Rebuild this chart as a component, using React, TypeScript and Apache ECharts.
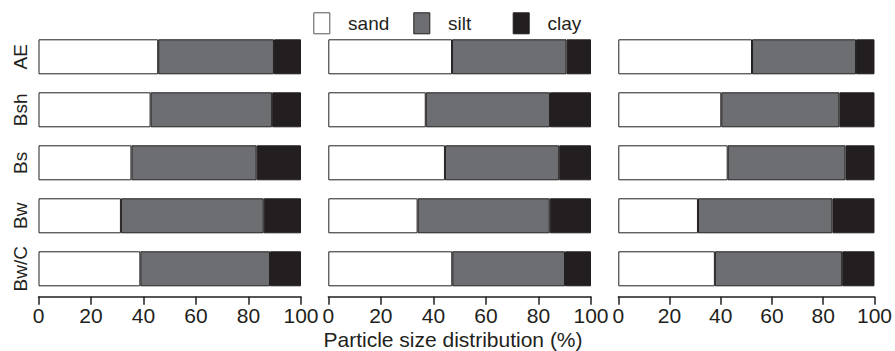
import React, { useEffect, useRef } from "react";
import * as echarts from "echarts";

const categories = ["AE", "Bsh", "Bs", "Bw", "Bw/C"];
const seriesNames = ["sand", "silt", "clay"];

const sand1 = [45.6, 42.7, 35.4, 31.4, 38.8];
const silt1 = [44.1, 46.3, 47.7, 54.4, 49.4];
const clay1 = [10.3, 11.0, 16.9, 14.2, 11.8];

const sand2 = [47.1, 37.1, 44.4, 34.0, 47.2];
const silt2 = [43.6, 47.3, 43.5, 50.3, 42.9];
const clay2 = [9.3, 15.6, 12.1, 15.7, 9.9];

const sand3 = [52.2, 40.2, 42.7, 31.1, 37.7];
const silt3 = [40.6, 46.1, 46.0, 52.5, 49.7];
const clay3 = [7.2, 13.7, 11.3, 16.4, 12.6];

const panels = [
  [sand1, silt1, clay1],
  [sand2, silt2, clay2],
  [sand3, silt3, clay3],
];

const xTicks = [0, 20, 40, 60, 80, 100];
const xTitle = "Particle size distribution (%)";

const FONT = "'Liberation Sans', Arial, Helvetica, sans-serif";
const INK = "#231f20";
const COLORS = ["#ffffff", "#6d6e71", "#231f20"];

export default function App() {
  const ref = useRef<HTMLDivElement>(null);
  useEffect(() => {
    if (!ref.current) return;
    const chart = echarts.init(ref.current, null, { renderer: "svg" });
    const gridPos = [
      { left: 38.5, width: 262.5 },
      { left: 328.3, width: 262.7 },
      { left: 618.3, width: 262.4 },
    ];
    const grid = gridPos.map((g) => ({ ...g, top: 30.3, height: 265 }));
    const xAxis = gridPos.map((_, i) => ({
      type: "value",
      gridIndex: i,
      min: xTicks[0],
      max: xTicks[xTicks.length - 1],
      interval: xTicks[1] - xTicks[0],
      offset: 1.5,
      axisLine: { show: true, lineStyle: { color: INK, width: 1.5 } },
      axisTick: { show: true, length: 8, lineStyle: { color: INK, width: 1.5 } },
      axisLabel: { fontSize: 21, color: INK, fontFamily: FONT, margin: 8 },
      splitLine: { show: false },
    }));
    const yAxis = gridPos.map((_, i) => ({
      type: "category",
      gridIndex: i,
      inverse: true,
      data: categories,
      axisLine: { show: false },
      axisTick: { show: false },
      axisLabel: {
        show: i === 0,
        interval: 0,
        rotate: 90,
        fontSize: 19,
        color: INK,
        fontFamily: FONT,
        margin: 9,
      },
    }));
    const series: any[] = [];
    panels.forEach((panel, i) => {
      panel.forEach((vals, k) => {
        series.push({
          type: "bar",
          name: seriesNames[k],
          xAxisIndex: i,
          yAxisIndex: i,
          stack: "p" + i,
          barWidth: 35,
          data: vals,
          itemStyle: { color: COLORS[k], borderColor: INK, borderWidth: 1 },
        });
      });
    });
    const legendLefts = [313.3, 413.3, 512.7];
    const legend = seriesNames.map((n, k) => ({
      data: [n],
      left: legendLefts[k],
      top: 12.3,
      padding: 0,
      itemWidth: 16,
      itemHeight: 21,
      icon: "rect",
      itemStyle: { borderColor: k === 0 ? "#555" : INK, borderWidth: 1 },
      formatter: (name: string) => "\u2002\u2009" + name,
      textStyle: { fontSize: 19, color: INK, fontFamily: FONT },
      selectedMode: false,
    }));
    chart.setOption({
      animation: false,
      grid,
      xAxis,
      yAxis,
      series,
      legend,
      graphic: [
        {
          type: "text",
          x: 453,
          y: 339,
          style: {
            text: xTitle,
            align: "center",
            verticalAlign: "middle",
            fontSize: 21,
            fontFamily: FONT,
            fill: INK,
          },
        },
      ],
    });
    return () => chart.dispose();
  }, []);
  return (
    <div
      ref={ref}
      style={{ position: "fixed", left: 0, top: 0, width: 895, height: 351, background: "#fff" }}
    />
  );
}
